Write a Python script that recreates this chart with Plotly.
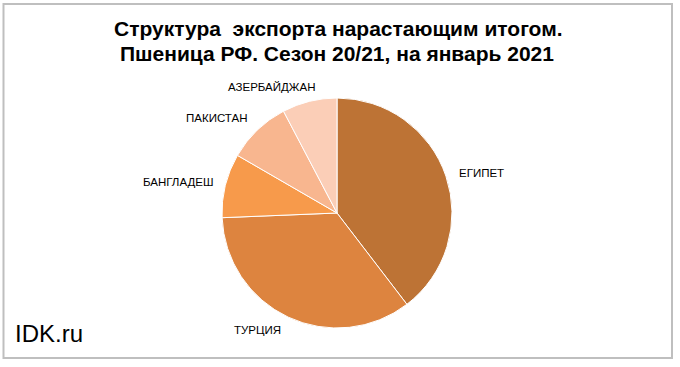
import plotly.graph_objects as go

countries = ["ЕГИПЕТ", "ТУРЦИЯ", "БАНГЛАДЕШ", "ПАКИСТАН", "АЗЕРБАЙДЖАН"]
shares = [39.6, 34.75, 9.0, 8.95, 7.7]
colors = ["#BD7335", "#DD843F", "#F79A4B", "#F8B68F", "#FBCEB7"]

title_line1 = "Структура  экспорта нарастающим итогом."
title_line2 = "Пшеница РФ. Сезон 20/21, на январь 2021"
watermark = "IDK.ru"

W, H = 680, 367
cx, cy, r = 337, 213, 115
FONT = "Liberation Sans, Arial"

# label placement (pixel centres, layout only)
label_xy = [(481.5, 173), (257.5, 330), (177.5, 182), (216, 118), (271, 87)]

fig = go.Figure(go.Pie(
    labels=countries,
    values=shares,
    sort=False,
    direction="clockwise",
    rotation=0,
    marker=dict(colors=colors, line=dict(color="#FFFFFF", width=1)),
    textinfo="none",
    hoverinfo="label+percent",
    showlegend=False,
    domain=dict(x=[(cx - r) / W, (cx + r) / W], y=[(H - cy - r) / H, (H - cy + r) / H]),
))

annotations = [
    dict(text="<b>" + title_line1 + "</b>", xref="paper", yref="paper",
         x=338 / W, y=1 - 28 / H, xanchor="center", yanchor="middle", showarrow=False,
         font=dict(family=FONT, size=21, color="#000000")),
    dict(text="<b>" + title_line2 + "</b>", xref="paper", yref="paper",
         x=337 / W, y=1 - 54 / H, xanchor="center", yanchor="middle", showarrow=False,
         font=dict(family=FONT, size=21, color="#000000")),
    dict(text=watermark, xref="paper", yref="paper",
         x=13 / W, y=1 - 333 / H, xanchor="left", yanchor="middle",
         showarrow=False,
         font=dict(family=FONT, size=24, color="#000000")),
]
for name, (lx, ly) in zip(countries, label_xy):
    annotations.append(dict(text=name, xref="paper", yref="paper",
                            x=lx / W, y=1 - ly / H, xanchor="center", yanchor="middle",
                            showarrow=False,
                            font=dict(family=FONT, size=11.5, color="#000000")))

fig.update_layout(
    width=W, height=H,
    margin=dict(l=0, r=0, t=0, b=0),
    paper_bgcolor="#FFFFFF",
    plot_bgcolor="#FFFFFF",
    shapes=[dict(type="rect", xref="paper", yref="paper",
                 x0=3.5 / W, x1=672 / W, y0=1 - 358 / H, y1=1 - 4 / H,
                 line=dict(color="#BFBFBF", width=2), fillcolor="rgba(0,0,0,0)")],
    annotations=annotations,
)

fig.write_html("out.html", config={"displayModeBar": False},
               post_script="document.body.style.margin='0';")
